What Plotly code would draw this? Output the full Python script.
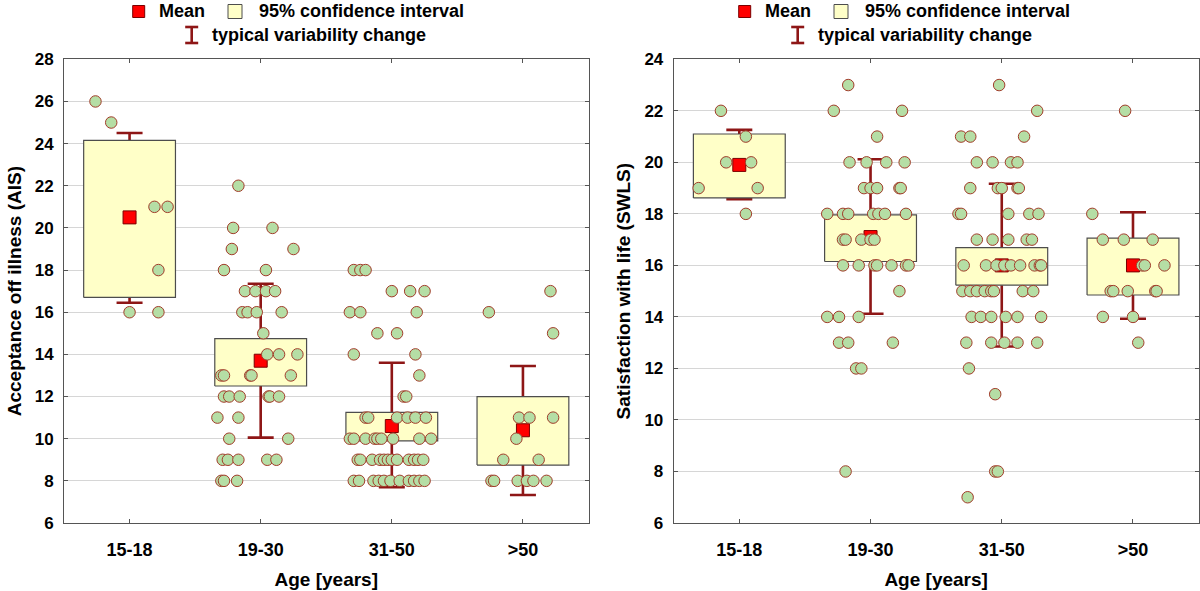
import plotly.graph_objects as go

W, H = 1200, 591

categories = ["15-18", "19-30", "31-50", ">50"]

# ---------------- Acceptance of illness (AIS) ----------------
ais_mean = [20.5, 13.7, 10.6, 10.4]
ais_ci_lo = [16.7, 12.5, 9.9, 8.75]
ais_ci_hi = [24.15, 14.75, 11.25, 12.0]
ais_var_lo = [16.45, 10.05, 7.7, 7.33]
ais_var_hi = [24.5, 17.35, 13.6, 13.45]

ais_g1_vals = [26, 25, 21, 21, 18, 16, 16]
ais_g1_jit = [-0.26, -0.14, 0.19, 0.29, 0.22, 0.00, 0.22]

ais_g2_vals = [22, 20, 20, 19, 19, 18, 18, 17, 17, 17, 17, 16, 16, 16, 16, 15,
               14, 14, 14, 13, 13, 13, 13, 13, 12, 12, 12, 12, 12, 12, 11, 11,
               10, 10, 9, 9, 9, 9, 9, 8, 8, 8]
ais_g2_jit = [-0.17, -0.21, 0.09, -0.22, 0.25, -0.28, 0.04, -0.12, -0.04, 0.04, 0.11,
              -0.14, -0.10, -0.03, 0.16, 0.02, 0.05, 0.14, 0.28, -0.30, -0.28, -0.08,
              -0.07, 0.23, -0.28, -0.24, -0.16, 0.06, 0.07, 0.14, -0.33, -0.17,
              -0.24, 0.21, -0.29, -0.25, -0.17, 0.05, 0.12, -0.30, -0.28, -0.18]

ais_g3_vals = [18, 18, 18, 17, 17, 17, 16, 16, 16, 15, 15, 14, 14, 13, 12, 12,
               11, 11, 11, 11, 11, 11,
               10, 10, 10, 10, 10, 10, 10, 10, 10,
               9, 9, 9, 9, 9, 9, 9, 9, 9, 9, 9, 9,
               8, 8, 8, 8, 8, 8, 8, 8, 8, 8, 8]
ais_g3_jit = [-0.29, -0.24, -0.20, 0.00, 0.14, 0.25, -0.32, -0.24, 0.19, -0.11, 0.04,
              -0.29, 0.18, 0.21, 0.09, 0.11,
              -0.20, -0.18, 0.04, 0.12, 0.18, 0.26,
              -0.32, -0.29, -0.20, -0.13, -0.11, -0.08, 0.01, 0.21, 0.30,
              -0.26, -0.24, -0.15, -0.09, -0.06, -0.03, 0.00, 0.04, 0.13, 0.17, 0.20, 0.24,
              -0.29, -0.25, -0.14, -0.10, -0.06, -0.01, 0.06, 0.13, 0.17, 0.21, 0.25]

ais_g4_vals = [17, 16, 15, 11, 11, 11, 10, 9, 9, 8, 8, 8, 8, 8, 8]
ais_g4_jit = [0.21, -0.26, 0.23, -0.03, 0.05, 0.23, -0.05, -0.15, 0.12,
              -0.24, -0.22, -0.04, 0.03, 0.08, 0.18]

# ---------------- Satisfaction with life (SWLS) ----------------
swls_mean = [19.9, 17.1, 16.0, 16.0]
swls_ci_lo = [18.62, 16.15, 15.23, 14.85]
swls_ci_hi = [21.1, 17.96, 16.69, 17.06]
swls_var_lo = [18.57, 14.12, 12.85, 13.93]
swls_var_hi = [21.26, 20.12, 19.17, 18.06]

swls_g1_vals = [22, 21, 20, 20, 19, 19, 18]
swls_g1_jit = [-0.14, 0.05, -0.10, 0.09, -0.31, 0.14, 0.05]

swls_g2_vals = [23, 22, 22, 21, 20, 20, 20, 20, 19, 19, 19, 19, 19,
                18, 18, 18, 18, 18, 18, 18, 17, 17, 17, 17, 17,
                16, 16, 16, 16, 16, 16, 16, 15, 14, 14, 14, 13, 13, 13, 12, 12, 8]
swls_g2_jit = [-0.17, -0.28, 0.24, 0.05, -0.16, -0.03, 0.12, 0.26,
               -0.05, 0.00, 0.05, 0.22, 0.23,
               -0.33, -0.21, -0.17, 0.02, 0.06, 0.11, 0.27,
               -0.21, -0.19, -0.07, 0.00, 0.03,
               -0.21, -0.09, 0.03, 0.05, 0.16, 0.27, 0.29,
               0.22, -0.33, -0.24, -0.09, -0.24, -0.17, 0.17, -0.11, -0.07, -0.19]

swls_g3_vals = [23, 22, 21, 21, 21, 20, 20, 20, 20, 19, 19, 19, 19, 19,
                18, 18, 18, 18, 18, 17, 17, 17, 17, 17,
                16, 16, 16, 16, 16, 16, 16, 16, 16,
                15, 15, 15, 15, 15, 15, 15, 15,
                14, 14, 14, 14, 14, 14, 13, 13, 13, 13, 13, 12, 11, 8, 8, 7]
swls_g3_jit = [-0.02, 0.27, -0.31, -0.24, 0.17, -0.19, -0.07, 0.07, 0.12,
               -0.24, -0.03, 0.00, 0.12, 0.13,
               -0.33, -0.31, 0.05, 0.21, 0.28, -0.19, -0.07, 0.05, 0.19, 0.23,
               -0.29, -0.12, -0.04, 0.02, 0.07, 0.14, 0.25, 0.29, 0.30,
               -0.30, -0.24, -0.19, -0.13, -0.08, -0.06, 0.16, 0.24,
               -0.23, -0.16, -0.08, 0.03, 0.12, 0.30, -0.27, -0.08, 0.02, 0.12, 0.27,
               -0.25, -0.05, -0.05, -0.03, -0.26]

swls_g4_vals = [22, 18, 17, 17, 17, 16, 16, 16, 15, 15, 15, 15, 15, 14, 14, 13]
swls_g4_jit = [-0.06, -0.31, -0.23, -0.07, 0.15, 0.07, 0.09, 0.24,
               -0.17, -0.15, -0.04, 0.17, 0.18, -0.23, 0.00, 0.04]

# ---------------- styles ----------------
FONT = "Liberation Sans, Arial, Helvetica, sans-serif"
WHISKER = "#8e1616"
BOX_FILL = "#ffffc8"
BOX_LINE = "#4d4d4d"
PT_FILL = "#b5dea5"
PT_LINE = "#a23c2a"
MEAN_FILL = "#ff0000"
MEAN_LINE = "#7a0000"
FRAME = "#555555"
GRID = "#d6d6d6"
BOX_HALF = 0.35

fig = go.Figure()


def add_panel(xa, ya, mean, ci_lo, ci_hi, v_lo, v_hi, groups):
    idx = list(range(len(categories)))
    # variability whiskers (drawn first, behind boxes)
    fig.add_trace(go.Scatter(
        x=idx, y=mean, mode="markers", xaxis=xa, yaxis=ya,
        marker=dict(size=1, color="rgba(0,0,0,0)"),
        error_y=dict(type="data", symmetric=False,
                     array=[h - m for h, m in zip(v_hi, mean)],
                     arrayminus=[m - l for m, l in zip(mean, v_lo)],
                     color=WHISKER, thickness=2.6, width=13),
        hoverinfo="skip", showlegend=False))
    # 95% CI boxes
    bx, by = [], []
    for i in idx:
        bx += [i - BOX_HALF, i + BOX_HALF, i + BOX_HALF, i - BOX_HALF, i - BOX_HALF, None]
        by += [ci_lo[i], ci_lo[i], ci_hi[i], ci_hi[i], ci_lo[i], None]
    fig.add_trace(go.Scatter(
        x=bx, y=by, mode="lines", fill="toself", fillcolor=BOX_FILL,
        line=dict(color=BOX_LINE, width=1.2), xaxis=xa, yaxis=ya,
        hoverinfo="skip", showlegend=False))
    # means
    fig.add_trace(go.Scatter(
        x=idx, y=mean, mode="markers", xaxis=xa, yaxis=ya,
        marker=dict(symbol="square", size=13, color=MEAN_FILL,
                    line=dict(color=MEAN_LINE, width=1)),
        showlegend=False))
    # individual observations
    px_, py_ = [], []
    for i, (vals, jit) in enumerate(groups):
        px_ += [i + j for j in jit]
        py_ += vals
    fig.add_trace(go.Scatter(
        x=px_, y=py_, mode="markers", xaxis=xa, yaxis=ya,
        marker=dict(symbol="circle", size=11.5, color=PT_FILL,
                    line=dict(color=PT_LINE, width=1)),
        showlegend=False))


add_panel("x", "y", ais_mean, ais_ci_lo, ais_ci_hi, ais_var_lo, ais_var_hi,
          [(ais_g1_vals, ais_g1_jit), (ais_g2_vals, ais_g2_jit),
           (ais_g3_vals, ais_g3_jit), (ais_g4_vals, ais_g4_jit)])
add_panel("x2", "y2", swls_mean, swls_ci_lo, swls_ci_hi, swls_var_lo, swls_var_hi,
          [(swls_g1_vals, swls_g1_jit), (swls_g2_vals, swls_g2_jit),
           (swls_g3_vals, swls_g3_jit), (swls_g4_vals, swls_g4_jit)])

ydom = [1 - 523 / H, 1 - 59.3 / H]
xcommon = dict(range=[-0.5, 3.5], tickvals=[0, 1, 2, 3], ticktext=categories,
               showgrid=False, zeroline=False, showline=True, mirror="ticks",
               linecolor=FRAME, linewidth=1, ticks="inside", ticklen=4,
               tickcolor=FRAME, ticklabelstandoff=10, automargin=False,
               tickfont=dict(family=FONT, size=18, color="black", weight="bold"),
               title=dict(text="Age [years]", standoff=14,
                          font=dict(family=FONT, size=19, color="black", weight="bold")))
ycommon = dict(dtick=2, showgrid=True, gridcolor=GRID, gridwidth=1, zeroline=False,
               showline=True, mirror="ticks", linecolor=FRAME, linewidth=1,
               ticks="inside", ticklen=4, tickcolor=FRAME, ticklabelstandoff=6,
               automargin=False,
               tickfont=dict(family=FONT, size=17, color="black", weight="bold"))

fig.update_layout(
    width=W, height=H, margin=dict(l=0, r=0, t=0, b=0, autoexpand=False),
    plot_bgcolor="white", paper_bgcolor="white", showlegend=False,
    xaxis=dict(domain=[64 / W, 588.5 / W], anchor="y", **xcommon),
    xaxis2=dict(domain=[673.7 / W, 1198.6 / W], anchor="y2", **xcommon),
    yaxis=dict(domain=ydom, anchor="x", range=[6, 28], **ycommon,
               title=dict(text="Acceptance off illness (AIS)", standoff=8,
                          font=dict(family=FONT, size=19, color="black", weight="bold"))),
    yaxis2=dict(domain=ydom, anchor="x2", range=[6, 24], **ycommon,
                title=dict(text="Satisfaction with life (SWLS)", standoff=8,
                           font=dict(family=FONT, size=19, color="black", weight="bold"))),
)

# ---------------- legends (one above each panel) ----------------
def X(p):
    return p / W


def Y(p):
    return 1 - p / H


shapes, annos = [], []
for dx in (0, 606):
    shapes.append(dict(type="rect", xref="paper", yref="paper",
                       x0=X(132.7 + dx), x1=X(144.7 + dx), y0=Y(17.5), y1=Y(5.5),
                       fillcolor=MEAN_FILL, line=dict(color=MEAN_LINE, width=1)))
    shapes.append(dict(type="rect", xref="paper", yref="paper",
                       x0=X(228 + dx), x1=X(242 + dx), y0=Y(18.5), y1=Y(4.5),
                       fillcolor=BOX_FILL, line=dict(color=BOX_LINE, width=1)))
    cx = 191.7 + dx
    for (x0, y0, x1, y1) in [(cx, 27, cx, 43), (cx - 6.5, 27, cx + 6.5, 27),
                             (cx - 6.5, 43, cx + 6.5, 43)]:
        shapes.append(dict(type="line", xref="paper", yref="paper",
                           x0=X(x0), y0=Y(y0), x1=X(x1), y1=Y(y1),
                           line=dict(color=WHISKER, width=2.6)))
    for txt, x, y in [("Mean", 157, 11.5), ("95% confidence interval", 256.5, 11.5),
                      ("typical variability change", 209.5, 34.5)]:
        annos.append(dict(text=txt, xref="paper", yref="paper", x=X(x + dx), y=Y(y),
                          xanchor="left", yanchor="middle", showarrow=False,
                          font=dict(family=FONT, size=18, color="black", weight="bold")))

fig.update_layout(shapes=shapes, annotations=annos)

fig.write_html("out.html", config={"displayModeBar": False},
               post_script="document.body.style.margin='0px';")
